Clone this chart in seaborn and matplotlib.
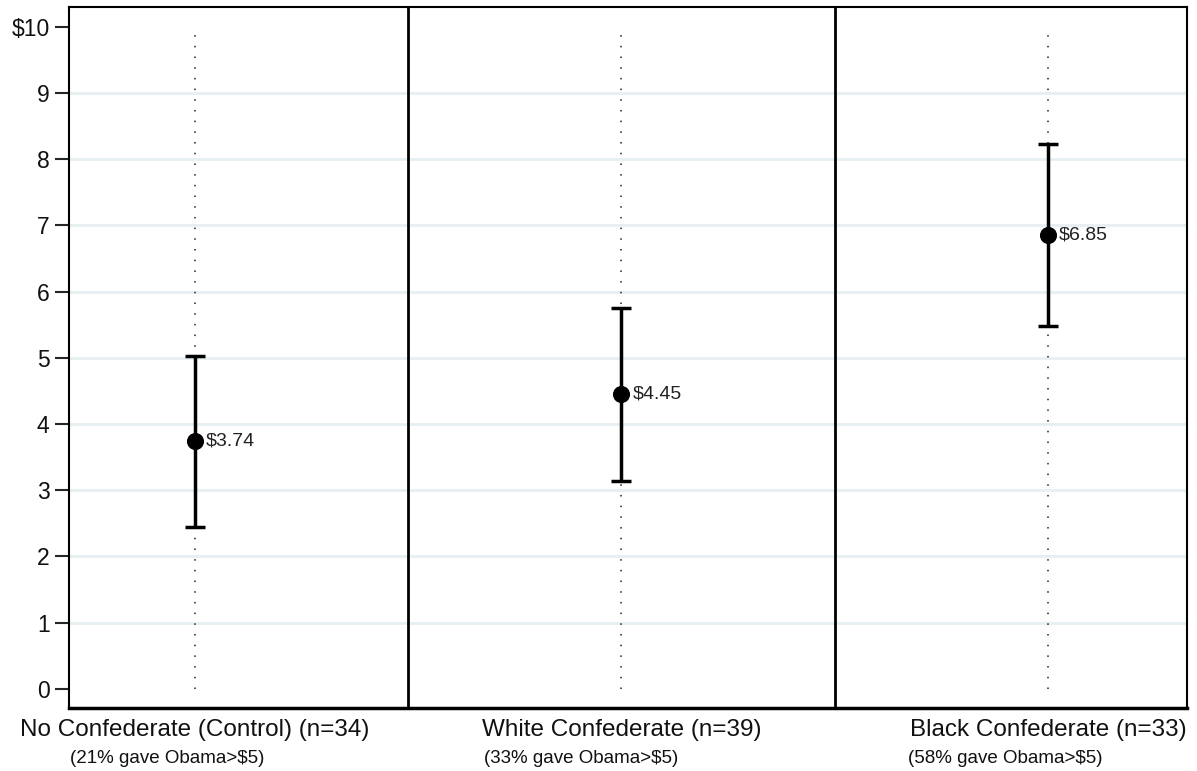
import matplotlib
matplotlib.use("Agg")
import matplotlib.pyplot as plt
import matplotlib.transforms as mtransforms
import seaborn as sns
import pandas as pd
import numpy as np

categories = ["No Confederate (Control) (n=34)", "White Confederate (n=39)", "Black Confederate (n=33)"]
sublabels = ["(21% gave Obama>$5)", "(33% gave Obama>$5)", "(58% gave Obama>$5)"]
means = [3.74, 4.45, 6.85]
lower = [2.45, 3.14, 5.48]
upper = [5.03, 5.76, 8.23]
value_labels = ["$3.74", "$4.45", "$6.85"]
yticks = [0, 1, 2, 3, 4, 5, 6, 7, 8, 9, 10]
ytick_labels = ["0", "1", "2", "3", "4", "5", "6", "7", "8", "9", "$10"]

sns.set_style("white")
plt.rcParams['font.family'] = ['Liberation Sans', 'DejaVu Sans']

df = pd.DataFrame({"group": categories, "mean": means, "lo": lower, "hi": upper})

fig = plt.figure(figsize=(11.97, 7.71), dpi=100)
ax = fig.add_axes([69/1197, 1 - 708/771, (1187-69)/1197, (708-7)/771])

# grid lines
for g in range(1, 10):
    ax.axhline(g, color="#e6eff1", lw=2, zorder=0)

# dotted guide lines
for i in range(len(categories)):
    ax.plot([i, i], [0, 10], color="#222222", lw=1.1, ls=(0, (1, 6)), zorder=1)

# panel dividers
for d in [0.5, 1.5]:
    ax.axvline(d, color="black", lw=2, zorder=2)

ax.errorbar(np.arange(len(categories)), df["mean"],
            yerr=[df["mean"] - df["lo"], df["hi"] - df["mean"]],
            fmt="none", ecolor="black", elinewidth=2.5, capsize=7, capthick=2.5, zorder=3)
sns.scatterplot(data=df, x="group", y="mean", ax=ax, color="black", s=130,
                edgecolor="black", zorder=4, legend=False)

for i, (m, lab) in enumerate(zip(means, value_labels)):
    ax.annotate(lab, (i, m), xytext=(8, 0), textcoords="offset points",
                va="center", ha="left", fontsize=14, color="#222222")

ax.set_xlim(-0.295, 2.326)
ax.set_ylim(-0.29, 10.3)
ax.set_yticks(yticks)
ax.set_yticklabels(ytick_labels, fontsize=16.5, color="#111111")
ax.tick_params(axis="y", length=10, width=1.5, direction="out", left=True, pad=4)
ax.set_xticks(range(len(categories)))
ax.set_xticklabels(categories, fontsize=17.5, color="#111111")
ax.tick_params(axis="x", length=0, pad=8)
ax.set_xlabel("")
ax.set_ylabel("")

sub_offsets = [-0.293, -0.323, -0.328]
sub_tr = mtransforms.offset_copy(ax.transData, fig=fig, x=0, y=-42, units="dots")
for i, (s, off) in enumerate(zip(sublabels, sub_offsets)):
    ax.text(i + off, -0.29, s, transform=sub_tr, fontsize=13.5,
            ha="left", va="top", color="#111111")

for sp in ax.spines.values():
    sp.set_visible(True)
    sp.set_color("black")
    sp.set_linewidth(1.5)
ax.spines["bottom"].set_linewidth(2.5)

fig.savefig("out.png", dpi=100)
